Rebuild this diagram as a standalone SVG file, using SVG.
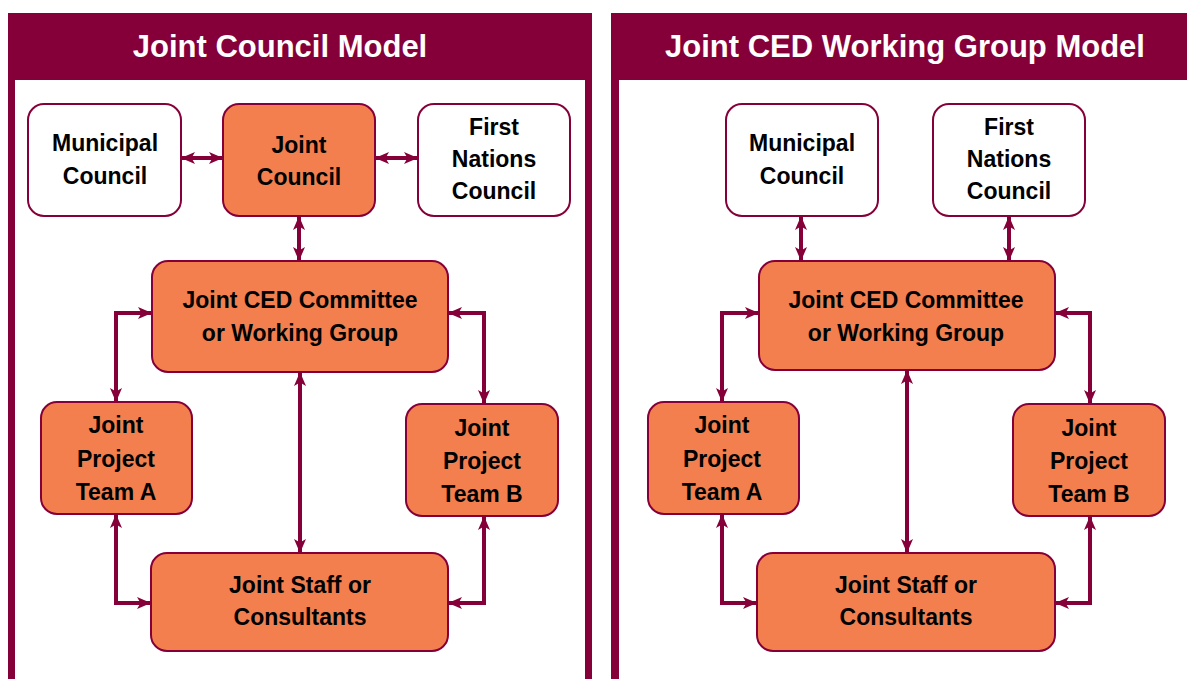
<svg xmlns="http://www.w3.org/2000/svg" width="1187" height="679" viewBox="0 0 1187 679">
  <style>
    .panel { fill: #850039; }
    .inner { fill: #ffffff; }
    .title { font-family: "Liberation Sans", Arial, sans-serif; font-weight: bold; font-size: 31px; fill: #ffffff; text-anchor: middle; }
    .box-w { fill: #ffffff; stroke: #850039; stroke-width: 2; }
    .box-o { fill: #F27F4D; stroke: #850039; stroke-width: 2; }
    .lbl { font-family: "Liberation Sans", Arial, sans-serif; font-weight: bold; font-size: 23px; fill: #000000; text-anchor: middle; }
    .conn { fill: none; stroke: #850039; stroke-width: 4; marker-start: url(#ah); marker-end: url(#ah); }
  </style>
  <defs>
    <marker id="ah" viewBox="0 0 14 12" refX="14" refY="6" markerWidth="14" markerHeight="12" markerUnits="userSpaceOnUse" orient="auto-start-reverse">
      <path d="M0,0 L14,6 L0,12 L3.5,6 Z" fill="#850039"/>
    </marker>
  </defs>

  <rect width="1187" height="679" fill="#ffffff"/>

  <!-- Left panel -->
  <g id="panel-left">
    <rect class="panel" x="8" y="13" width="584" height="680"/>
    <rect class="inner" x="15" y="80" width="570" height="610"/>
    <text class="title" x="280" y="57">Joint Council Model</text>
  </g>

  <!-- Right panel -->
  <g id="panel-right">
    <rect class="panel" x="611" y="13" width="600" height="680"/>
    <rect class="inner" x="619" y="80" width="600" height="610"/>
    <text class="title" x="905" y="57">Joint CED Working Group Model</text>
  </g>

  <!-- Connectors -->
  <g id="connectors">
    <!-- left -->
    <path class="conn" d="M181,158 L223,158"/>
    <path class="conn" d="M375,158 L418,158"/>
    <path class="conn" d="M299,216 L299,261"/>
    <path class="conn" d="M152,313 L116,313 L116,402"/>
    <path class="conn" d="M448,313 L484,313 L484,404"/>
    <path class="conn" d="M300,372 L300,553"/>
    <path class="conn" d="M116,514 L116,603 L151,603"/>
    <path class="conn" d="M484,516 L484,603 L448,603"/>
    <!-- right -->
    <path class="conn" d="M801,216 L801,261"/>
    <path class="conn" d="M1009,216 L1009,261"/>
    <path class="conn" d="M759,313 L722,313 L722,402"/>
    <path class="conn" d="M1055,313 L1090,313 L1090,404"/>
    <path class="conn" d="M907,370 L907,553"/>
    <path class="conn" d="M722,514 L722,603 L757,603"/>
    <path class="conn" d="M1090,516 L1090,603 L1055,603"/>
  </g>

  <!-- Left panel nodes -->
  <g id="l-municipal">
    <rect class="box-w" x="28" y="104" width="153" height="112" rx="16"/>
    <text class="lbl" x="105" y="151">Municipal</text>
    <text class="lbl" x="105" y="184">Council</text>
  </g>
  <g id="l-joint-council">
    <rect class="box-o" x="223" y="104" width="152" height="112" rx="16"/>
    <text class="lbl" x="299" y="153">Joint</text>
    <text class="lbl" x="299" y="185">Council</text>
  </g>
  <g id="l-first-nations">
    <rect class="box-w" x="418" y="104" width="152" height="112" rx="16"/>
    <text class="lbl" x="494" y="135">First</text>
    <text class="lbl" x="494" y="167">Nations</text>
    <text class="lbl" x="494" y="199">Council</text>
  </g>
  <g id="l-ced">
    <rect class="box-o" x="152" y="261" width="296" height="111" rx="16"/>
    <text class="lbl" x="300" y="308">Joint CED Committee</text>
    <text class="lbl" x="300" y="341">or Working Group</text>
  </g>
  <g id="l-team-a">
    <rect class="box-o" x="41" y="402" width="151" height="112" rx="16"/>
    <text class="lbl" x="116" y="433">Joint</text>
    <text class="lbl" x="116" y="467">Project</text>
    <text class="lbl" x="116" y="500">Team A</text>
  </g>
  <g id="l-team-b">
    <rect class="box-o" x="406" y="404" width="152" height="112" rx="16"/>
    <text class="lbl" x="482" y="436">Joint</text>
    <text class="lbl" x="482" y="469">Project</text>
    <text class="lbl" x="482" y="502">Team B</text>
  </g>
  <g id="l-staff">
    <rect class="box-o" x="151" y="553" width="297" height="98" rx="16"/>
    <text class="lbl" x="300" y="593">Joint Staff or</text>
    <text class="lbl" x="300" y="625">Consultants</text>
  </g>

  <!-- Right panel nodes -->
  <g id="r-municipal">
    <rect class="box-w" x="726" y="104" width="152" height="112" rx="16"/>
    <text class="lbl" x="802" y="151">Municipal</text>
    <text class="lbl" x="802" y="184">Council</text>
  </g>
  <g id="r-first-nations">
    <rect class="box-w" x="933" y="104" width="152" height="112" rx="16"/>
    <text class="lbl" x="1009" y="135">First</text>
    <text class="lbl" x="1009" y="167">Nations</text>
    <text class="lbl" x="1009" y="199">Council</text>
  </g>
  <g id="r-ced">
    <rect class="box-o" x="759" y="261" width="296" height="109" rx="16"/>
    <text class="lbl" x="906" y="308">Joint CED Committee</text>
    <text class="lbl" x="906" y="341">or Working Group</text>
  </g>
  <g id="r-team-a">
    <rect class="box-o" x="648" y="402" width="151" height="112" rx="16"/>
    <text class="lbl" x="722" y="433">Joint</text>
    <text class="lbl" x="722" y="467">Project</text>
    <text class="lbl" x="722" y="500">Team A</text>
  </g>
  <g id="r-team-b">
    <rect class="box-o" x="1013" y="404" width="152" height="112" rx="16"/>
    <text class="lbl" x="1089" y="436">Joint</text>
    <text class="lbl" x="1089" y="469">Project</text>
    <text class="lbl" x="1089" y="502">Team B</text>
  </g>
  <g id="r-staff">
    <rect class="box-o" x="757" y="553" width="298" height="98" rx="16"/>
    <text class="lbl" x="906" y="593">Joint Staff or</text>
    <text class="lbl" x="906" y="625">Consultants</text>
  </g>
</svg>
